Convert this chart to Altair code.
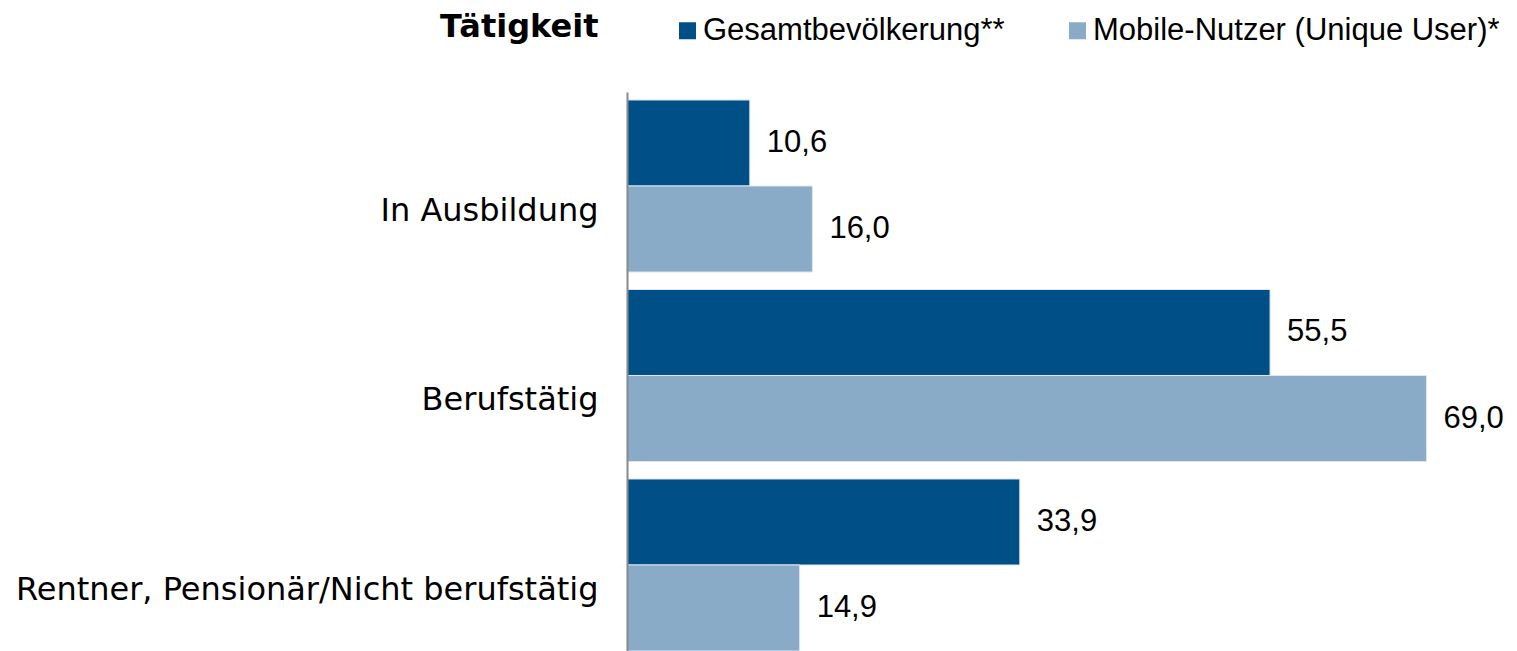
import altair as alt
import pandas as pd

categories = ["In Ausbildung", "Berufstätig", "Rentner, Pensionär/Nicht berufstätig"]
series = ["Gesamtbevölkerung**", "Mobile-Nutzer (Unique User)*"]
gesamt = [10.6, 55.5, 33.9]
mobile = [16.0, 69.0, 14.9]
colors = ["#004F87", "#8AABC7"]

rows = []
for c, g, m in zip(categories, gesamt, mobile):
    rows.append({"Tätigkeit": c, "Gruppe": series[0], "Wert": g})
    rows.append({"Tätigkeit": c, "Gruppe": series[1], "Wert": m})
df = pd.DataFrame(rows)

y_enc = alt.Y(
    "Tätigkeit:N",
    sort=categories,
    scale=alt.Scale(paddingInner=0.0923, paddingOuter=0.0211, align=1),
    axis=alt.Axis(
        title="Tätigkeit",
        titleFont="DejaVu Sans",
        titleFontWeight="bold",
        titleFontSize=32,
        titleColor="black",
        titleAngle=0,
        titleAlign="right",
        titleBaseline="alphabetic",
        titleX=-29,
        titleY=-56,
        labelFont="DejaVu Sans",
        labelFontSize=32,
        labelColor="black",
        labelPadding=29,
        labelLimit=0,
        labelOffset=25,
        ticks=False,
        grid=False,
        domainColor="#8a8a8a",
        domainWidth=2,
        zindex=1,
    ),
)
yoff = alt.YOffset("Gruppe:N", sort=series, scale=alt.Scale(paddingInner=0, paddingOuter=0))
x_enc = alt.X("Wert:Q", scale=alt.Scale(domain=[0, 75], nice=False, zero=True), axis=None)

bars = alt.Chart(df).mark_bar(stroke="#dde6ef", strokeWidth=1).encode(
    x=x_enc,
    y=y_enc,
    yOffset=yoff,
    color=alt.Color(
        "Gruppe:N",
        sort=series,
        scale=alt.Scale(domain=series, range=colors),
        legend=alt.Legend(
            title=None,
            orient="none",
            direction="horizontal",
            legendX=45,
            legendY=-77,
            padding=0,
            symbolType="square",
            symbolSize=289,
            symbolStrokeWidth=0,
            labelFont="Liberation Sans",
            labelFontSize=31,
            labelColor="black",
            labelOffset=0,
            labelLimit=0,
            columnPadding=57,
        ),
    ),
)

labels = alt.Chart(df).transform_calculate(
    lbl="replace(format(datum.Wert, '.1f'), '.', ',')"
).mark_text(
    align="left", baseline="middle", dx=17, font="Liberation Sans", fontSize=31, color="black"
).encode(
    x=x_enc,
    y=alt.Y("Tätigkeit:N", sort=categories),
    yOffset=alt.YOffset("Gruppe:N", sort=series),
    text="lbl:N",
)

chart = (
    alt.layer(bars, labels)
    .properties(
        width=869,
        height=559,
        autosize=alt.AutoSizeParams(type="none"),
        padding={"left": 619, "top": 84, "right": 13, "bottom": 0},
        background="white",
    )
    .configure_view(stroke=None)
)

chart.save("out.html", embed_options={"renderer": "svg", "actions": False})
